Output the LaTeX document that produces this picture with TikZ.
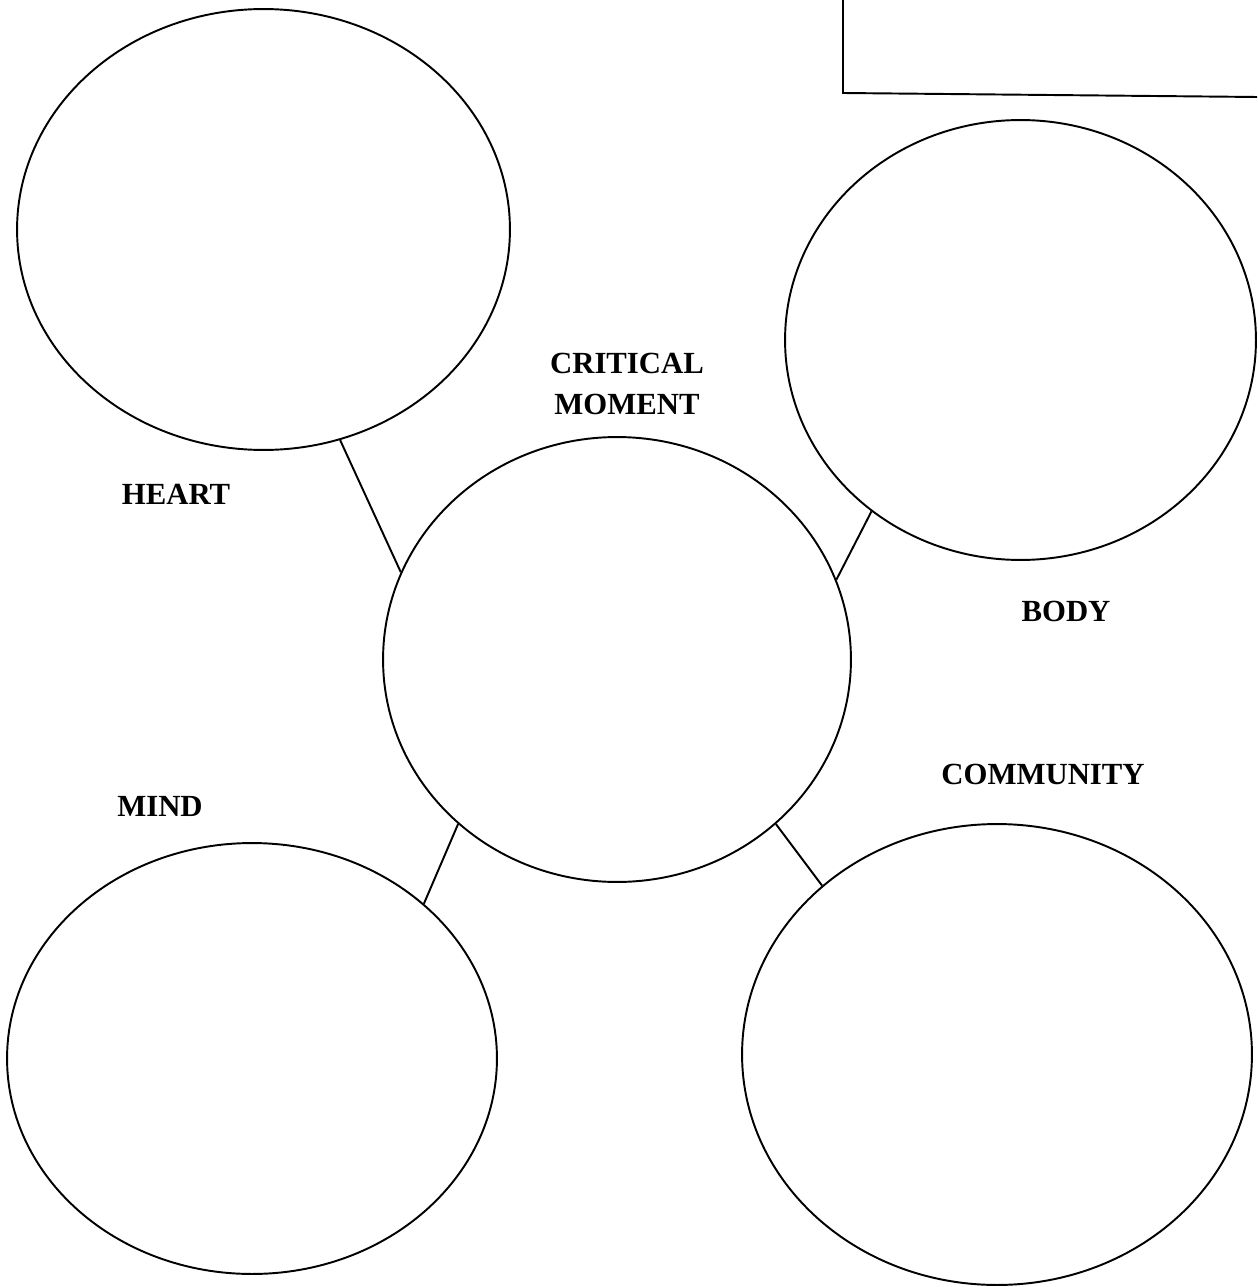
\documentclass[tikz,border=0pt]{standalone}
\usepackage{fontspec}
\setmainfont{Liberation Serif}
\usetikzlibrary{shapes.geometric}

\begin{document}
\begin{tikzpicture}[x=0.02cm, y=-0.02cm, line width=1.1pt,
  bubble/.style={ellipse, draw, inner sep=0pt},
  lbl/.style={font=\fontsize{17.5}{23}\selectfont\bfseries, align=center, inner sep=0pt}]
\useasboundingbox (0,0) rectangle (1257,1287);
% bubbles
\node[bubble, minimum width=9.86cm, minimum height=8.82cm] (heart) at (263.5,229.5) {};
\node[bubble, minimum width=9.42cm, minimum height=8.80cm] (body)  at (1020.5,340) {};
\node[bubble, minimum width=9.36cm, minimum height=8.90cm] (crit)  at (617,659.5) {};
\node[bubble, minimum width=9.80cm, minimum height=8.62cm] (mind)  at (252,1058.5) {};
\node[bubble, minimum width=10.2cm, minimum height=9.22cm] (comm)  at (997,1054.5) {};
% labels
\node[lbl] (critlbl)  at (627,384)  {CRITICAL\\MOMENT};
\node[lbl] (heartlbl) at (176,494)  {HEART};
\node[lbl] (bodylbl)  at (1066,611) {BODY};
\node[lbl] (commlbl)  at (1043,774) {COMMUNITY};
\node[lbl] (mindlbl)  at (160,806)  {MIND};
% links
\draw (heart.-70.7) -- (crit.158.6);
\draw (body.229.7)  -- (crit.20.5);
\draw (mind.42.8)   -- (crit.226);
\draw (comm.136.8)  -- (crit.-46);
% name box
\draw (843,0) -- (843,93) -- (1257,97);
\end{tikzpicture}
\end{document}
